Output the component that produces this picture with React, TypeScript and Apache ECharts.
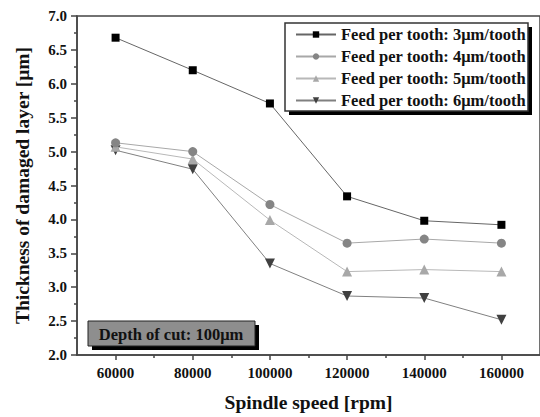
import React, { useEffect, useRef } from "react";
import * as echarts from "echarts";

const speeds = [60000, 80000, 100000, 120000, 140000, 160000];
const feed3 = [6.68, 6.2, 5.71, 4.34, 3.98, 3.92];
const feed4 = [5.13, 5.0, 4.22, 3.65, 3.71, 3.65];
const feed5 = [5.07, 4.89, 3.99, 3.23, 3.26, 3.23];
const feed6 = [5.02, 4.74, 3.35, 2.87, 2.84, 2.52];
const seriesNames = [
  "Feed per tooth: 3\u03bcm/tooth",
  "Feed per tooth: 4\u03bcm/tooth",
  "Feed per tooth: 5\u03bcm/tooth",
  "Feed per tooth: 6\u03bcm/tooth",
];
const xMajorTicks = [60000, 80000, 100000, 120000, 140000, 160000];
const xMinorTicks = [70000, 90000, 110000, 130000, 150000];

const FONT = "'Liberation Serif', 'Times New Roman', serif";

export default function App() {
  const ref = useRef<HTMLDivElement>(null);
  useEffect(() => {
    if (!ref.current) return;
    const chart = echarts.init(ref.current, undefined, { renderer: "svg" });
    const pair = (ys: number[]) => speeds.map((s, i) => [s, ys[i]]);
    const defs = [
      { data: feed3, symbol: "rect", size: 8, color: "#000000", line: "#666666" },
      { data: feed4, symbol: "circle", size: 9, color: "#858585", line: "#a8a8a8" },
      { data: feed5, symbol: "triangle", size: 10, color: "#a8a8a8", line: "#b8b8b8" },
      { data: feed6, symbol: "path://M0,0 L10,0 L5,9 Z", size: 10, color: "#404040", line: "#808080" },
    ];
    const labelStyle = { fontFamily: FONT, fontWeight: "bold" as const, fontSize: 15, color: "#111" };
    chart.setOption({
      animation: false,
      backgroundColor: "#ffffff",
      grid: {
        left: 77,
        top: 16,
        right: -1,
        bottom: 56,
        show: true,
        borderColor: "#444",
        borderWidth: 1.5,
      },
      legend: {
        orient: "vertical",
        left: 295,
        top: 26,
        padding: 0,
        itemWidth: 40,
        itemHeight: 8,
        itemGap: 5,
        textStyle: { fontFamily: FONT, fontWeight: "bold", fontSize: 16.5, color: "#111" },
        data: seriesNames,
      },
      xAxis: [
        {
          type: "value",
          min: 50000,
          max: 170000,
          splitLine: { show: false },
          axisLine: { lineStyle: { color: "#444", width: 1.5 } },
          axisTick: { customValues: xMajorTicks, length: 5, lineStyle: { color: "#444", width: 1.5 } },
          axisLabel: { customValues: xMajorTicks, margin: 10, formatter: (v: number) => String(v), ...labelStyle },
          name: "Spindle speed [rpm]",
          nameLocation: "middle",
          nameGap: 37,
          nameTextStyle: { fontFamily: FONT, fontWeight: "bold", fontSize: 19.5, color: "#111" },
        },
        {
          type: "value",
          min: 50000,
          max: 170000,
          position: "bottom",
          splitLine: { show: false },
          axisLine: { show: false },
          axisTick: { customValues: xMinorTicks, length: 3, lineStyle: { color: "#444", width: 1.5 } },
          axisLabel: { show: false },
        },
      ],
      yAxis: {
        type: "value",
        min: 2,
        max: 7,
        interval: 0.5,
        splitLine: { show: false },
        axisLine: { show: true, lineStyle: { color: "#444", width: 1.5 } },
        axisTick: { length: 6, lineStyle: { color: "#444", width: 1.5 } },
        minorTick: { show: true, splitNumber: 2, length: 3, lineStyle: { color: "#444", width: 1.5 } },
        axisLabel: { margin: 10, formatter: (v: number) => v.toFixed(1), ...labelStyle },
        name: "Thickness of damaged layer [\u03bcm]",
        nameLocation: "middle",
        nameGap: 45,
        nameTextStyle: { fontFamily: FONT, fontWeight: "bold", fontSize: 19.5, color: "#111" },
      },
      graphic: [
        { type: "rect", z: 0, shape: { x: 289, y: 27, width: 243, height: 88 }, style: { fill: "#000" } },
        { type: "rect", z: 1, shape: { x: 285, y: 23, width: 243, height: 88 }, style: { fill: "#fff", stroke: "#333", lineWidth: 1.5 } },
        { type: "rect", z: 10, shape: { x: 92, y: 325, width: 167, height: 25 }, style: { fill: "#000" } },
        { type: "rect", z: 11, shape: { x: 88, y: 321, width: 167, height: 25 }, style: { fill: "#8e8e8e", stroke: "#222", lineWidth: 1 } },
        {
          type: "text",
          z: 12,
          x: 171,
          y: 334,
          style: {
            text: "Depth of cut: 100\u03bcm",
            fontFamily: FONT,
            fontWeight: "bold",
            fontSize: 16.5,
            fill: "#111",
            align: "center",
            verticalAlign: "middle",
          },
        },
      ],
      series: defs.map((d, i) => ({
        name: seriesNames[i],
        type: "line",
        data: pair(d.data),
        symbol: d.symbol,
        symbolSize: d.size,
        itemStyle: { color: d.color },
        lineStyle: { color: d.line, width: 1 },
        z: 5 + (3 - i),
      })),
    });
    return () => chart.dispose();
  }, []);
  return <div ref={ref} style={{ width: 540, height: 417, position: "absolute", left: 0, top: 0 }} />;
}
